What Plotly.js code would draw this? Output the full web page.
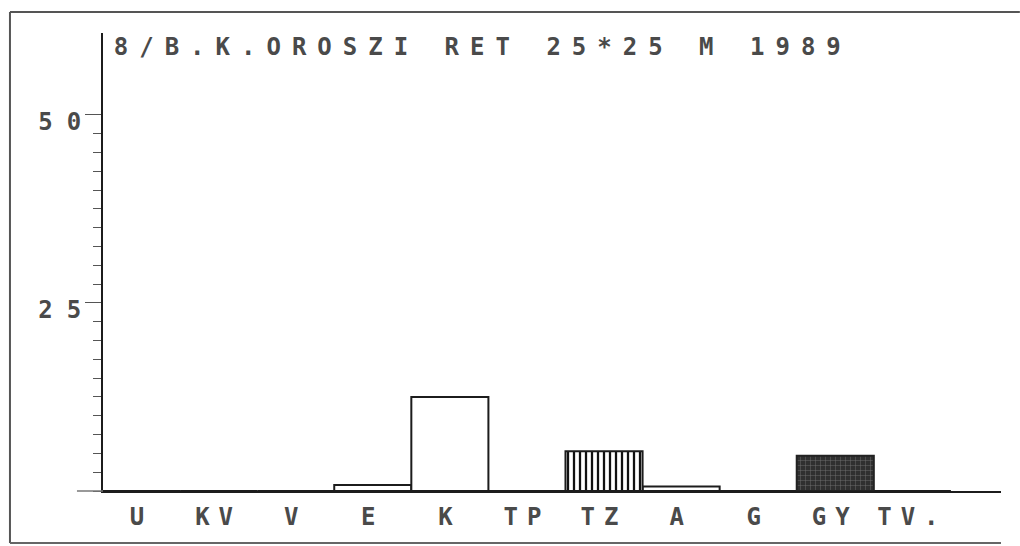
<!DOCTYPE html>
<html>
<head>
<meta charset="utf-8">
<script src="https://cdn.plot.ly/plotly-3.0.1.min.js"></script>
<style>
  html, body { margin: 0; padding: 0; background: #ffffff; }
  #chart { width: 1020px; height: 546px; }
  .gtitle { letter-spacing: 11px; }
  .xtick text { letter-spacing: 9px; }
  .ytick text { letter-spacing: 14px; }
</style>
</head>
<body>
<div id="chart"></div>
<script>
// ---- data ----
var categories = ["U", "KV", "V", "E", "K", "TP", "TZ", "A", "G", "GY", "TV."];
var values     = [0, 0, 0, 0.8, 12.5, 0, 5.3, 0.6, 0, 4.7, 0];
var yTickVals  = [0, 12.5, 25, 37.5, 50];
var yTickText  = ["", "", "25", "", "50"];
var chartTitle = "8/B.K.OROSZI RET 25*25 M 1989";

// categories drawn with a fill pattern in the printout
var hatchedCats = ["TZ"];
var darkCats    = ["GY"];

var ink = "#1c1c1c";
var textInk = "#4a4a4a";
var font = { family: "DejaVu Sans Mono", size: 24, color: textInk, weight: "bold" };

function pick(list, keep) {
  return values.map(function (v, i) {
    var inList = list.indexOf(categories[i]) >= 0;
    return (inList === keep) ? v : null;
  });
}
var special = hatchedCats.concat(darkCats);

var plainTrace = {
  type: "bar", x: categories, y: pick(special, false),
  marker: { color: "#ffffff", line: { color: ink, width: 2 } },
  hoverinfo: "x+y"
};
var hatchTrace = {
  type: "bar", x: categories, y: pick(hatchedCats, true),
  marker: {
    color: "#ffffff", line: { color: ink, width: 2 },
    pattern: { shape: "|", fgcolor: "#111111", bgcolor: "#ffffff", size: 6, solidity: 0.38 }
  },
  hoverinfo: "x+y"
};
var darkTrace = {
  type: "bar", x: categories, y: pick(darkCats, true),
  marker: {
    color: "#303030", line: { color: "#222222", width: 2 },
    pattern: { shape: "+", fgcolor: "#7a7a7a", bgcolor: "#303030", size: 5, solidity: 0.15 }
  },
  hoverinfo: "x+y"
};

// minor ticks only up to the top labelled value
var minorVals = [];
for (var t = 0; t <= yTickVals[yTickVals.length - 1] + 1e-9; t += 2.5) minorVals.push(t);

var layout = {
  width: 1020,
  height: 546,
  margin: { l: 103, r: 19, t: 33, b: 55 },
  paper_bgcolor: "#ffffff",
  plot_bgcolor: "#ffffff",
  bargap: 0,
  barmode: "overlay",
  showlegend: false,
  title: {
    text: chartTitle,
    font: font,
    xref: "paper",
    x: 0.012,
    xanchor: "left",
    yref: "container",
    y: 0.914,
    yanchor: "middle"
  },
  xaxis: {
    type: "category",
    range: [-0.5, 11.15],
    showline: true,
    linecolor: ink,
    linewidth: 2,
    ticks: "",
    showgrid: false,
    zeroline: false,
    tickfont: font,
    ticklabelstandoff: 3,
    fixedrange: true
  },
  yaxis: {
    range: [0, 60.9],
    showline: true,
    linecolor: ink,
    linewidth: 2,
    showgrid: false,
    zeroline: false,
    tickmode: "array",
    tickvals: yTickVals,
    ticktext: yTickText,
    ticks: "outside",
    ticklen: 16,
    tickwidth: 1,
    tickcolor: "#555555",
    ticklabelshift: 7,
    ticklabelstandoff: -15,
    tickfont: font,
    minor: { tickmode: "array", tickvals: minorVals, ticks: "outside", ticklen: 8, tickcolor: "#555555", tickwidth: 1, showgrid: false },
    fixedrange: true
  },
  shapes: [
    // outer frame of the printout (left, top, bottom)
    { type: "line", xref: "paper", yref: "paper", x0: -0.1036, x1: -0.1036, y0: 1.046, y1: -0.1135,
      line: { color: "#555555", width: 2 } },
    { type: "line", xref: "paper", yref: "paper", x0: -0.1036, x1: 1.021, y0: 1.046, y1: 1.046,
      line: { color: "#555555", width: 2 } },
    { type: "line", xref: "paper", yref: "paper", x0: -0.1036, x1: 1.0, y0: -0.1135, y1: -0.1135,
      line: { color: "#666666", width: 2 } },
    // baseline stub left of the y axis
    { type: "line", xref: "paper", yref: "paper", x0: -0.029, x1: 0, y0: 0, y1: 0,
      line: { color: "#777777", width: 1.5 } }
  ]
};

Plotly.newPlot("chart", [plainTrace, hatchTrace, darkTrace], layout, { displayModeBar: false, staticPlot: true });
</script>
</body>
</html>
